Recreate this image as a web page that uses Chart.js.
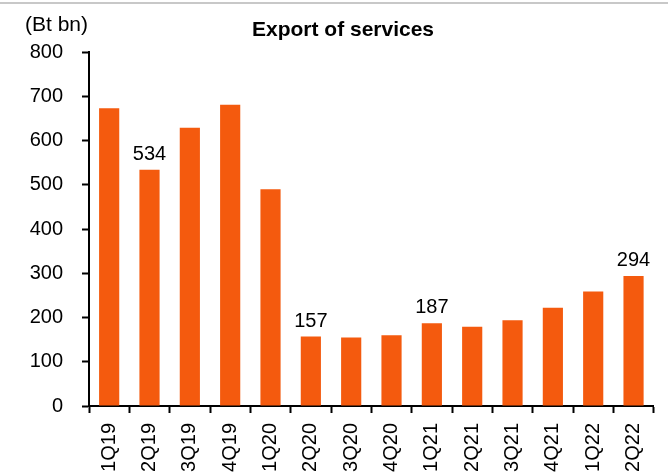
<!DOCTYPE html>
<html>
<head>
<meta charset="utf-8">
<script src="https://cdn.jsdelivr.net/npm/chart.js@4.4.1/dist/chart.umd.min.js"></script>
<style>
  html, body { margin: 0; padding: 0; background: #fff; }
  #wrap { position: relative; width: 668px; height: 473px; }
  #topline { position: absolute; left: 0; top: 2px; width: 668px; height: 2px; background: #c8c8c8; }
</style>
</head>
<body>
<div id="wrap">
  <div id="topline"></div>
  <canvas id="exportChart" width="668" height="473"></canvas>
</div>
<script>
const quarters = ['1Q19', '2Q19', '3Q19', '4Q19', '1Q20', '2Q20', '3Q20', '4Q20',
                  '1Q21', '2Q21', '3Q21', '4Q21', '1Q22', '2Q22'];
const exportValues = [673, 534, 629, 681, 490, 157, 155, 160, 187, 179, 194, 222, 259, 294];
const labelledBars = [1, 5, 8, 13];
const yTicks = [0, 100, 200, 300, 400, 500, 600, 700, 800];

const FONT = '"Liberation Sans", Arial, sans-serif';
const BAR = '#F45A0E';

// title, unit and value labels drawn straight onto the canvas
const extraText = {
  id: 'extraText',
  afterDatasetsDraw(chart) {
    const ctx = chart.ctx;
    ctx.save();
    ctx.fillStyle = '#000';
    ctx.textBaseline = 'alphabetic';

    ctx.font = 'bold 21px ' + FONT;
    ctx.textAlign = 'center';
    ctx.fillText('Export of services', 343, 36);

    ctx.font = '21px ' + FONT;
    ctx.textAlign = 'left';
    ctx.fillText('(Bt bn)', 25, 31);

    ctx.font = '20px ' + FONT;
    const meta = chart.getDatasetMeta(0);
    ctx.textAlign = 'center';
    labelledBars.forEach(i => {
      const bar = meta.data[i];
      ctx.fillText(String(exportValues[i]), bar.x, bar.y - 10);
    });
    ctx.restore();
  }
};

new Chart(document.getElementById('exportChart'), {
  type: 'bar',
  data: {
    labels: quarters,
    datasets: [{
      data: exportValues,
      backgroundColor: BAR,
      borderWidth: 0,
      barPercentage: 0.5,
      categoryPercentage: 1
    }]
  },
  options: {
    responsive: false,
    animation: false,
    layout: { padding: { top: 52, right: 13, left: 0, bottom: 0 } },
    plugins: { legend: { display: false }, tooltip: { enabled: false } },
    scales: {
      x: {
        offset: true,
        grid: {
          offset: true,
          drawOnChartArea: false,
          drawTicks: true,
          tickLength: 7,
          tickWidth: 2,
          tickColor: '#000'
        },
        border: { color: '#000', width: 2 },
        ticks: {
          color: '#000',
          font: { family: FONT, size: 20 },
          minRotation: 90,
          maxRotation: 90,
          autoSkip: false,
          padding: 10
        },
        afterFit(scale) { scale.height = 67; }
      },
      y: {
        min: 0,
        max: 800,
        afterBuildTicks(scale) { scale.ticks = yTicks.map(v => ({ value: v })); },
        grid: {
          drawOnChartArea: false,
          drawTicks: true,
          tickLength: 7,
          tickWidth: 2,
          tickColor: '#000'
        },
        border: { color: '#000', width: 2 },
        ticks: {
          color: '#000',
          font: { family: FONT, size: 20 },
          padding: 19
        },
        afterFit(scale) { scale.width = 89; }
      }
    }
  },
  plugins: [extraText]
});
</script>
</body>
</html>
